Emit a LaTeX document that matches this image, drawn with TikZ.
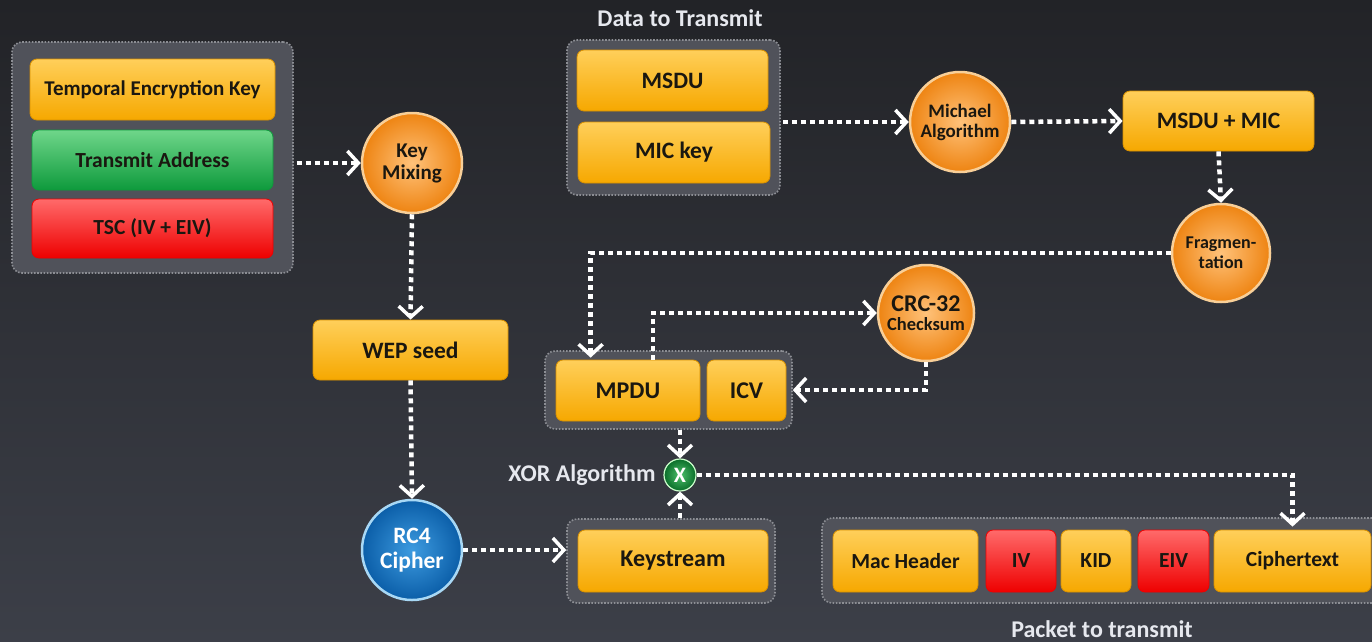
\documentclass[tikz,border=0pt]{standalone}
\usepackage{fontspec}
\setmainfont{Carlito}
\usetikzlibrary{arrows.meta,calc}
\definecolor{bgtop}{HTML}{222327}
\definecolor{bgbot}{HTML}{3C3F48}
\definecolor{grpfill}{HTML}{50525A}
\definecolor{grpline}{HTML}{8C8E94}
\definecolor{oTop}{HTML}{FFCF5A}
\definecolor{oBot}{HTML}{F6A800}
\definecolor{oEdge}{HTML}{D89000}
\definecolor{gTop}{HTML}{6FD68A}
\definecolor{gBot}{HTML}{0E9A3C}
\definecolor{rTop}{HTML}{FF6A6A}
\definecolor{rBot}{HTML}{EE0000}
\definecolor{cIn}{HTML}{FFC27A}
\definecolor{cOut}{HTML}{EE8412}
\definecolor{cRim}{HTML}{F8CF98}
\definecolor{bIn}{HTML}{3D9BE0}
\definecolor{bOut}{HTML}{0B5EA8}
\definecolor{bRim}{HTML}{A8D8F5}
\definecolor{xIn}{HTML}{4CC06A}
\definecolor{xOut}{HTML}{0A6E2A}
\definecolor{txt}{HTML}{1A1710}
\definecolor{lbl}{HTML}{E6E8EE}
\newcommand{\fs}[1]{\bfseries\fontsize{#1}{#1}\selectfont}
\begin{document}
\begin{tikzpicture}[x=1pt,y=-1pt,
  grp/.style={draw=grpline, fill=grpfill, line width=1.6pt, dash pattern=on 1.6pt off 1.6pt, rounded corners=10pt},
  obox/.style={rounded corners=7pt, draw=oEdge, line width=0.8pt, top color=oTop, bottom color=oBot, inner sep=0pt, text=txt, font=\bfseries},
  gbox/.style={rounded corners=7pt, draw=gBot, line width=0.8pt, top color=gTop, bottom color=gBot, inner sep=0pt, text=txt, font=\bfseries},
  rbox/.style={rounded corners=7pt, draw=rBot, line width=0.8pt, top color=rTop, bottom color=rBot, inner sep=0pt, text=txt, font=\bfseries},
  circ/.style={circle, inner sep=0pt, draw=cRim, line width=2.5pt, inner color=cIn, outer color=cOut, align=center, text=txt, font=\bfseries},
  lab/.style={text=lbl, font=\bfseries},
  arr/.style={draw=white, line width=4.5pt, dash pattern=on 5pt off 4pt, -{Straight Barb[length=11pt,width=24pt,line width=3.5pt]}}
]
\useasboundingbox (0,0) rectangle (1372,641);
\clip (0,0) rectangle (1372,641);
\shade[top color=bgtop, bottom color=bgbot] (0,0) rectangle (1372,641);

% group 1
\node[grp, minimum width=281pt, minimum height=231pt] (g1) at (152.5,157.5) {};
\node[obox, minimum width=245pt, minimum height=61pt, font=\fs{21}] (tek) at (152.5,89.5) {Temporal Encryption Key};
\node[gbox, minimum width=241pt, minimum height=60pt, font=\fs{21.5}] (ta) at (152.5,160) {Transmit Address};
\node[rbox, minimum width=241pt, minimum height=59pt, font=\fs{21.5}] (tsc) at (152.5,228.5) {TSC (IV + EIV)};

\node[circ, minimum size=100pt, font=\fs{21}, align=center] (km) at (412,163) {Key\\[1pt]Mixing};
\node[obox, minimum width=195pt, minimum height=60pt, font=\fs{23.5}] (wep) at (410.5,350) {WEP seed};
\node[circle, inner sep=0pt, draw=bRim, line width=2.5pt, inner color=bIn, outer color=bOut, align=center, text=white, font=\fs{23.5}, minimum size=100pt] (rc4) at (412,550) {RC4\\[1pt]Cipher};

% keystream
\node[grp, minimum width=208pt, minimum height=84pt] (ksg) at (671,561) {};
\node[obox, minimum width=190pt, minimum height=62pt, font=\fs{24}] (ks) at (673,561) {Keystream};

% data to transmit
\node[lab, font=\fs{24}] (dtt) at (680,18) {Data to Transmit};
\node[grp, minimum width=213pt, minimum height=155pt] (dg) at (673.5,117.5) {};
\node[obox, minimum width=191pt, minimum height=61pt, font=\fs{23.5}] (msdu) at (672.5,80.5) {MSDU};
\node[obox, minimum width=192pt, minimum height=61pt, font=\fs{23.5}] (mic) at (674,152.5) {MIC key};

\node[circ, minimum size=100pt, font=\fs{19}] (mich) at (960,122) {Michael\\[1pt]Algorithm};
\node[obox, minimum width=191pt, minimum height=60pt, font=\fs{23.5}] (mm) at (1218.5,121) {MSDU + MIC};
\node[circ, minimum size=98pt, font=\fs{18}] (frag) at (1221,253) {Fragmen-\\[2pt]tation};
\node[circ, minimum size=96pt, font=\fs{18.5}] (crc) at (926,313) {{\fs{24}CRC-32}\\[1pt]Checksum};

% MPDU group
\node[grp, minimum width=247pt, minimum height=78pt] (mg) at (668.5,390) {};
\node[obox, minimum width=144pt, minimum height=61pt, font=\fs{24}] (mpdu) at (628,390.5) {MPDU};
\node[obox, minimum width=79pt, minimum height=61pt, font=\fs{24}] (icv) at (746.5,390.5) {ICV};

% XOR
\node[circle, inner sep=0pt, minimum size=32pt, draw=white!80!green, line width=1.2pt, inner color=xIn, outer color=xOut, text=white, font=\fs{22}] (xor) at (680,475) {X};
\node[lab, anchor=east, font=\fs{24}] (xorl) at (659,475) {XOR Algorithm};

% packet
\node[grp, minimum width=560pt, minimum height=85pt] (pg) at (1102,560.5) {};
\node[obox, minimum width=145pt, minimum height=62pt, font=\fs{21.5}] (mac) at (905.5,561) {Mac Header};
\node[rbox, minimum width=70pt, minimum height=62pt, font=\fs{21.5}] (iv) at (1021,561) {IV};
\node[obox, minimum width=70pt, minimum height=62pt, font=\fs{21.5}] (kid) at (1096,561) {KID};
\node[rbox, minimum width=71pt, minimum height=62pt, font=\fs{21.5}] (eiv) at (1173.5,561) {EIV};
\node[obox, minimum width=157pt, minimum height=62pt, font=\fs{21.5}] (ct) at (1292.5,561) {Ciphertext};
\node[lab, font=\fs{24}] (ptt) at (1102,629) {Packet to transmit};

% connectors
\draw[arr] ($(g1.east |- km.west)+(3,0)$) -- (km.west);
\draw[arr] (km.south) -- (wep.north);
\draw[arr] (wep.south) -- (rc4.north);
\draw[arr] (rc4.east) -- (rc4.east -| ksg.west);
\draw[arr] ($(dg.east |- mich.west)+(2,0)$) -- (mich.west);
\draw[arr] (mich.east) -- (mm.west);
\draw[arr] (mm.south) -- (frag.north);
\coordinate (fragin) at ($(mpdu.north west)+(35,-2)$);
\draw[arr] (frag.west) -| (fragin);
\coordinate (mpdout) at ($(mpdu.north)+(25,0)$);
\draw[arr] (mpdout) |- (crc.west);
\draw[arr] (crc.south) |- (mg.east);
\draw[arr] (xor |- mg.south) -- (xor.north);
\draw[arr] (xor |- ksg.north) -- (xor.south);
\coordinate (ctin) at ($(ct.north)+(0,-3)$);
\draw[arr] (xor.east) -| (ctin);
\end{tikzpicture}
\end{document}
